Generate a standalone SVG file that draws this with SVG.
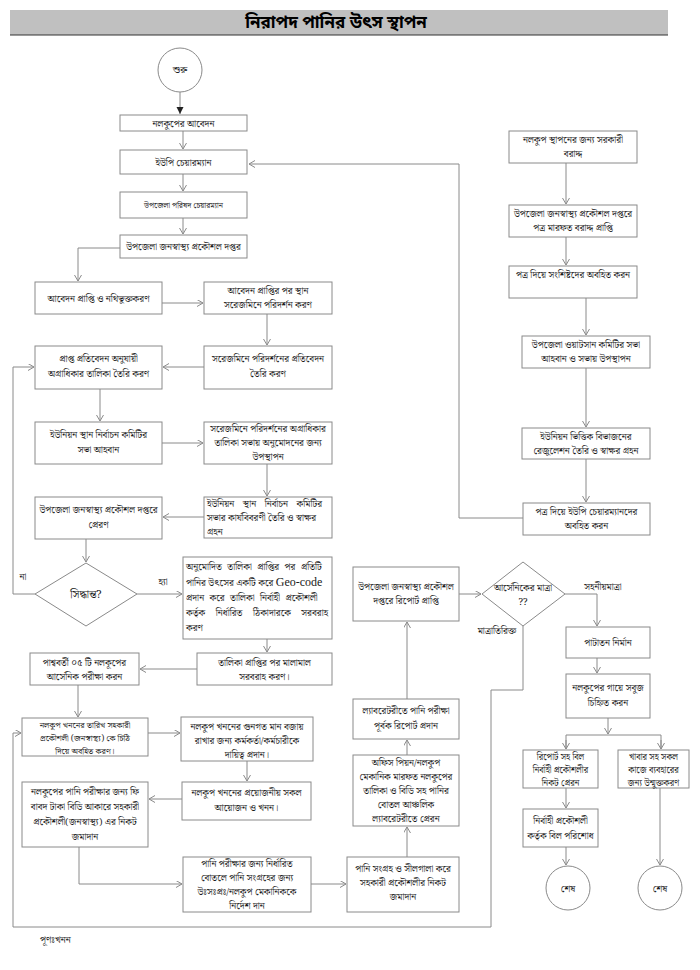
<svg xmlns="http://www.w3.org/2000/svg" width="700" height="970" viewBox="0 0 700 970">
<defs>
<style>
.b{fill:#fff;stroke:#8a8a8a;stroke-width:1}
.c{fill:none;stroke:#8a8a8a;stroke-width:1}
.t{font-family:"Noto Serif Bengali","Noto Sans Bengali","Lohit Bengali","Noto Sans",serif;font-size:9.5px;fill:#1a1a1a;text-anchor:middle}
.l{text-anchor:start}
.s{font-size:8px}
.k{font-size:8.8px}
.k2{font-size:8.5px}
.g{font-family:"Liberation Serif",serif;font-size:12px}
.ttl{font-family:"Noto Sans Bengali","Noto Serif Bengali","Noto Sans",sans-serif;font-size:17px;font-weight:bold;fill:#000;text-anchor:middle}
</style>
<marker id="a" markerWidth="8" markerHeight="8" refX="6" refY="3.5" orient="auto" markerUnits="userSpaceOnUse">
<path d="M0,0 L6,3.5 L0,7" fill="none" stroke="#8a8a8a" stroke-width="1"/>
</marker>
<marker id="af" markerWidth="8" markerHeight="8" refX="7" refY="3.5" orient="auto" markerUnits="userSpaceOnUse">
<path d="M0,0 L7,3.5 L0,7 Z" fill="#222"/>
</marker>
</defs>
<rect width="700" height="970" fill="#fff"/>
<g id="title">
<rect x="10" y="10" width="658" height="25" fill="#c0c0c0"/>
<line x1="10" y1="35" x2="668" y2="35" stroke="#333" stroke-width="1.2"/>
<text class="ttl" x="336" y="28">নিরাপদ পানির উৎস স্থাপন</text>
</g>
<g id="connectors">
<line class="c" x1="180" y1="92" x2="180" y2="114" marker-end="url(#af)"/>
<line class="c" x1="183" y1="131" x2="183" y2="149" marker-end="url(#a)"/>
<line class="c" x1="183" y1="174" x2="183" y2="191" marker-end="url(#a)"/>
<line class="c" x1="183" y1="218" x2="183" y2="234" marker-end="url(#a)"/>
<polyline class="c" points="120,248 78,248 78,281" marker-end="url(#a)"/>
<line class="c" x1="162" y1="303" x2="203" y2="303" marker-end="url(#a)"/>
<line class="c" x1="267" y1="314" x2="267" y2="345" marker-end="url(#a)"/>
<line class="c" x1="204" y1="367" x2="163" y2="367" marker-end="url(#a)"/>
<line class="c" x1="100" y1="389" x2="100" y2="421" marker-end="url(#a)"/>
<line class="c" x1="162" y1="443" x2="203" y2="443" marker-end="url(#a)"/>
<line class="c" x1="267" y1="464" x2="267" y2="496" marker-end="url(#a)"/>
<line class="c" x1="204" y1="517" x2="163" y2="517" marker-end="url(#a)"/>
<line class="c" x1="86" y1="539" x2="86" y2="562" marker-end="url(#a)"/>
<polyline class="c" points="35,594 13,594 13,367 34,367" marker-end="url(#a)"/>
<line class="c" x1="137" y1="594" x2="182" y2="594" marker-end="url(#a)"/>
<line class="c" x1="267" y1="639" x2="267" y2="652" marker-end="url(#a)"/>
<line class="c" x1="197" y1="669" x2="140" y2="669" marker-end="url(#a)"/>
<line class="c" x1="78" y1="685" x2="78" y2="717" marker-end="url(#a)"/>
<line class="c" x1="148" y1="733" x2="180" y2="733" marker-end="url(#a)"/>
<line class="c" x1="247" y1="761" x2="247" y2="781" marker-end="url(#a)"/>
<line class="c" x1="182" y1="799" x2="149" y2="799" marker-end="url(#a)"/>
<polyline class="c" points="79,847 79,884 182,884" marker-end="url(#a)"/>
<line class="c" x1="311" y1="884" x2="346" y2="884" marker-end="url(#a)"/>
<line class="c" x1="407" y1="857" x2="407" y2="827" marker-end="url(#a)"/>
<line class="c" x1="407" y1="755" x2="407" y2="740" marker-end="url(#a)"/>
<line class="c" x1="407" y1="699" x2="407" y2="622" marker-end="url(#a)"/>
<line class="c" x1="459" y1="594" x2="481" y2="594" marker-end="url(#a)"/>
<polyline class="c" points="565,594 597,594 597,626" marker-end="url(#a)"/>
<polyline class="c" points="523,626 523,690 491,690 491,927 13,927 13,733 21,733" marker-end="url(#a)"/>
<line class="c" x1="597" y1="658" x2="597" y2="673" marker-end="url(#a)"/>
<line class="c" x1="608" y1="718" x2="608" y2="734" marker-end="url(#a)"/>
<polyline class="c" points="566,749 566,735 661,735 661,749"/>
<line class="c" x1="566" y1="740" x2="566" y2="749" marker-end="url(#a)"/>
<line class="c" x1="661" y1="740" x2="661" y2="749" marker-end="url(#a)"/>
<line class="c" x1="566" y1="788" x2="566" y2="808" marker-end="url(#a)"/>
<line class="c" x1="566" y1="847" x2="566" y2="865" marker-end="url(#a)"/>
<line class="c" x1="660" y1="788" x2="660" y2="865" marker-end="url(#a)"/>
<line class="c" x1="566" y1="163" x2="566" y2="204" marker-end="url(#a)"/>
<line class="c" x1="566" y1="237" x2="566" y2="265" marker-end="url(#a)"/>
<line class="c" x1="586" y1="298" x2="586" y2="335" marker-end="url(#a)"/>
<line class="c" x1="586" y1="368" x2="586" y2="427" marker-end="url(#a)"/>
<line class="c" x1="586" y1="459" x2="586" y2="502" marker-end="url(#a)"/>
<polyline class="c" points="523,518 459,518 459,164 249,164" marker-end="url(#a)"/>
</g>
<g id="start">
<circle class="b" cx="180" cy="70" r="22"/>
<text class="t" x="180" y="73">শুরু</text>
</g>
<g id="n1"><rect class="b" x="120" y="115" width="127" height="16"/><text class="t" x="183.5" y="127">নলকুপের আবেদন</text></g>
<g id="n2"><rect class="b" x="120" y="150" width="127" height="24"/><text class="t" x="183.5" y="166">ইউপি চেয়ারম্যান</text></g>
<g id="n3"><rect class="b" x="120" y="192" width="127" height="26"/><text class="t s" x="183.5" y="208">উপজেলা পরিষদ চেয়ারম্যান</text></g>
<g id="n4"><rect class="b" x="120" y="235" width="127" height="23"/><text class="t" x="183.5" y="250">উপজেলা  জনস্বাস্থ্য প্রকৌশল দপ্তর</text></g>
<g id="n5"><rect class="b" x="35" y="282" width="127" height="32"/><text class="t" x="98.5" y="302">আবেদন প্রাপ্তি ও নথিভুক্তকরণ</text></g>
<g id="n6"><rect class="b" x="204" y="282" width="128" height="32"/><text class="t" x="268"><tspan x="268" y="294">আবেদন প্রাপ্তির পর স্থান</tspan><tspan x="268" y="308">সরেজমিনে পরিদর্শন করণ</tspan></text></g>
<g id="n7"><rect class="b" x="204" y="346" width="128" height="43"/><text class="t"><tspan x="268" y="362">সরেজমিনে পরিদর্শনের প্রতিবেদন</tspan><tspan x="268" y="377">তৈরি করণ</tspan></text></g>
<g id="n8"><rect class="b" x="35" y="346" width="127" height="43"/><text class="t"><tspan x="98.5" y="362">প্রাপ্ত প্রতিবেদন অনুযায়ী</tspan><tspan x="98.5" y="377">অগ্রাধিকার তালিকা তৈরি করণ</tspan></text></g>
<g id="n9"><rect class="b" x="35" y="422" width="127" height="42"/><text class="t"><tspan x="98.5" y="438">ইউনিয়ন স্থান নির্বাচন কমিটির</tspan><tspan x="98.5" y="453">সভা আহবান</tspan></text></g>
<g id="n10"><rect class="b" x="204" y="422" width="128" height="42"/><text class="t"><tspan x="268" y="432">সরেজমিনে পরিদর্শনের অগ্রাধিকার</tspan><tspan x="268" y="446">তালিকা সভায় অনুমোদনের জন্য</tspan><tspan x="268" y="460">উপস্থাপন</tspan></text></g>
<g id="n11"><rect class="b" x="204" y="497" width="128" height="41"/><text class="t l"><tspan x="207" y="507" word-spacing="6">ইউনিয়ন স্থান নির্বাচন কমিটির</tspan><tspan x="207" y="521">সভার কার্যবিবরণী তৈরি ও স্বাক্ষর</tspan><tspan x="207" y="535">গ্রহন</tspan></text></g>
<g id="n12"><rect class="b" x="35" y="497" width="127" height="42"/><text class="t"><tspan x="98.5" y="513">উপজেলা জনস্বাস্থ্য প্রকৌশল দপ্তরে</tspan><tspan x="98.5" y="528">প্রেরণ</tspan></text></g>
<g id="d1"><polygon class="b" points="86,563 137,594 86,626 35,594"/><text class="t" x="86" y="598" style="font-size:11px">সিদ্ধান্ত?</text></g>
<text class="t" x="23" y="580">না</text>
<text class="t" x="163" y="585">হ্যা</text>
<g id="n13"><rect class="b" x="183" y="557" width="149" height="82"/><text class="t l"><tspan x="186" y="570" word-spacing="3">অনুমোদিত তালিকা প্রাপ্তির পর প্রতিটি</tspan><tspan x="186" y="586">পানির উৎসের একটি করে <tspan class="g">Geo-code</tspan></tspan><tspan x="186" y="601" word-spacing="3">প্রদান করে তালিকা নির্বাহী প্রকৌশলী</tspan><tspan x="186" y="616" word-spacing="8">কর্তৃক নির্ধারিত ঠিকাদারকে সরবরাহ</tspan><tspan x="186" y="631">করণ</tspan></text></g>
<g id="n14"><rect class="b" x="197" y="653" width="135" height="32"/><text class="t"><tspan x="264.5" y="666">তালিকা প্রাপ্তির পর মালামাল</tspan><tspan x="264.5" y="680">সরবরাহ করণ।</tspan></text></g>
<g id="n15"><rect class="b" x="30" y="653" width="109" height="32"/><text class="t"><tspan x="84.5" y="666">পাশ্ববর্তী ০৫ টি নলকূপের</tspan><tspan x="84.5" y="680">আর্সেনিক পরীক্ষা করন</tspan></text></g>
<g id="n16"><rect class="b" x="22" y="718" width="126" height="38"/><text class="t k2"><tspan x="85" y="728">নলকুপ খননের তারিখ সহকারী</tspan><tspan x="85" y="741">প্রকৌশলী (জনস্বাস্থ্য) কে চিঠি</tspan><tspan x="85" y="754">দিয়ে অবহিত করণ।</tspan></text></g>
<g id="n17"><rect class="b" x="181" y="717" width="132" height="44"/><text class="t"><tspan x="247" y="730">নলকুপ খননের গুনগত মান বজায়</tspan><tspan x="247" y="744">রাখার জন্য কর্মকর্তা/কর্মচারীকে</tspan><tspan x="247" y="758">দায়িত্ব প্রদান।</tspan></text></g>
<g id="n18"><rect class="b" x="182" y="782" width="129" height="38"/><text class="t"><tspan x="246.5" y="796">নলকুপ খননের প্রয়োজনীয় সকল</tspan><tspan x="246.5" y="811">আয়োজন ও খনন।</tspan></text></g>
<g id="n19"><rect class="b" x="22" y="782" width="126" height="65"/><text class="t"><tspan x="85" y="795">নলকুপের পানি পরীক্ষার জন্য ফি</tspan><tspan x="85" y="810">বাবদ টাকা বিডি আকারে সহকারী</tspan><tspan x="85" y="825">প্রকৌশলী(জনস্বাস্থ্য) এর নিকট</tspan><tspan x="85" y="840">জমাদান</tspan></text></g>
<g id="n20"><rect class="b" x="183" y="857" width="128" height="55"/><text class="t"><tspan x="247" y="867">পানি পরীক্ষার জন্য নির্ধারিত</tspan><tspan x="247" y="881">বোতলে পানি সংগ্রহের জন্য</tspan><tspan x="247" y="895">উঃসঃপ্রঃ/নলকুপ মেকানিককে</tspan><tspan x="247" y="909">নির্দেশ দান</tspan></text></g>
<g id="n21"><rect class="b" x="347" y="857" width="112" height="55"/><text class="t"><tspan x="403" y="872">পানি সংগ্রহ ও সীলগালা করে</tspan><tspan x="403" y="886">সহকারী প্রকৌশলীর নিকট</tspan><tspan x="403" y="900">জমাদান</tspan></text></g>
<g id="n22"><rect class="b" x="353" y="755" width="106" height="71"/><text class="t"><tspan x="406" y="766">অফিস পিয়ন/নলকুপ</tspan><tspan x="406" y="780">মেকানিক মারফত নলকুপের</tspan><tspan x="406" y="794">তালিকা ও বিডি সহ পানির</tspan><tspan x="406" y="808">বোতল আঞ্চলিক</tspan><tspan x="406" y="822">ল্যাবরেটরীতে প্রেরন</tspan></text></g>
<g id="n23"><rect class="b" x="353" y="699" width="106" height="40"/><text class="t"><tspan x="406" y="714">ল্যাবরেটরীতে পানি পরীক্ষা</tspan><tspan x="406" y="729">পূর্বক রিপোর্ট প্রদান</tspan></text></g>
<g id="n24"><rect class="b" x="353" y="567" width="106" height="54"/><text class="t"><tspan x="406" y="590">উপজেলা জনস্বাস্থ্য প্রকৌশল</tspan><tspan x="406" y="604">দপ্তরে রিপোর্ট প্রাপ্তি</tspan></text></g>
<g id="d2"><polygon class="b" points="523,562 565,594 523,626 482,594"/><text class="t"><tspan x="523" y="591">আর্সেনিকের মাত্রা</tspan><tspan x="523" y="605">??</tspan></text></g>
<text class="t" x="603" y="590">সহনীয়মাত্রা</text>
<text class="t" x="497" y="634">মাত্রাতিরিক্ত</text>
<g id="n25"><rect class="b" x="566" y="627" width="84" height="31"/><text class="t" x="608" y="646">পাটাতন নির্মান</text></g>
<g id="n26"><rect class="b" x="566" y="674" width="84" height="44"/><text class="t"><tspan x="608" y="691">নলকুপের গায়ে সবুজ</tspan><tspan x="608" y="706">চিহ্নিত করন</tspan></text></g>
<g id="n27"><rect class="b" x="523" y="750" width="75" height="38"/><text class="t k"><tspan x="560.5" y="760">রিপোর্ট সহ বিল</tspan><tspan x="560.5" y="773">নির্বাহী প্রকৌশলীর</tspan><tspan x="560.5" y="786">নিকট প্রেরন</tspan></text></g>
<g id="n28"><rect class="b" x="618" y="750" width="71" height="38"/><text class="t k"><tspan x="653.5" y="760">খাবার সহ সকল</tspan><tspan x="653.5" y="773">কাজে ব্যবহারের</tspan><tspan x="653.5" y="786">জন্য উন্মুক্তকরণ</tspan></text></g>
<g id="n29"><rect class="b" x="523" y="809" width="75" height="38"/><text class="t"><tspan x="560.5" y="824">নির্বাহী প্রকৌশলী</tspan><tspan x="560.5" y="839">কর্তৃক বিল পরিশোধ</tspan></text></g>
<g id="end1"><circle class="b" cx="568" cy="888" r="22"/><text class="t" x="568" y="892">শেষ</text></g>
<g id="end2"><circle class="b" cx="660" cy="888" r="22"/><text class="t" x="660" y="892">শেষ</text></g>
<g id="r1"><rect class="b" x="509" y="131" width="128" height="32"/><text class="t"><tspan x="573" y="143">নলকুপ স্থাপনের জন্য সরকারী</tspan><tspan x="573" y="157">বরাদ্দ</tspan></text></g>
<g id="r2"><rect class="b" x="509" y="205" width="128" height="32"/><text class="t"><tspan x="573" y="217">উপজেলা জনস্বাস্থ্য প্রকৌশল দপ্তরে</tspan><tspan x="573" y="231">পত্র মারফত বরাদ্দ প্রাপ্তি</tspan></text></g>
<g id="r3"><rect class="b" x="509" y="266" width="128" height="32"/><text class="t" x="573" y="278">পত্র দিয়ে সংশিষ্টদের অবহিত করন</text></g>
<g id="r4"><rect class="b" x="522" y="336" width="128" height="32"/><text class="t"><tspan x="586" y="348">উপজেলা ওয়াটসান কমিটির সভা</tspan><tspan x="586" y="362">আহবান ও সভায় উপস্থাপন</tspan></text></g>
<g id="r5"><rect class="b" x="522" y="428" width="128" height="31"/><text class="t"><tspan x="586" y="440">ইউনিয়ন ভিত্তিক বিভাজনের</tspan><tspan x="586" y="454">রেজুলেশন তৈরি ও স্বাক্ষর গ্রহন</tspan></text></g>
<g id="r6"><rect class="b" x="523" y="503" width="127" height="32"/><text class="t"><tspan x="586.5" y="515">পত্র দিয়ে ইউপি চেয়ারম্যানদের</tspan><tspan x="586.5" y="529">অবহিত করন</tspan></text></g>
<text class="t l" x="40" y="943">পূণঃখনন</text>
</svg>
